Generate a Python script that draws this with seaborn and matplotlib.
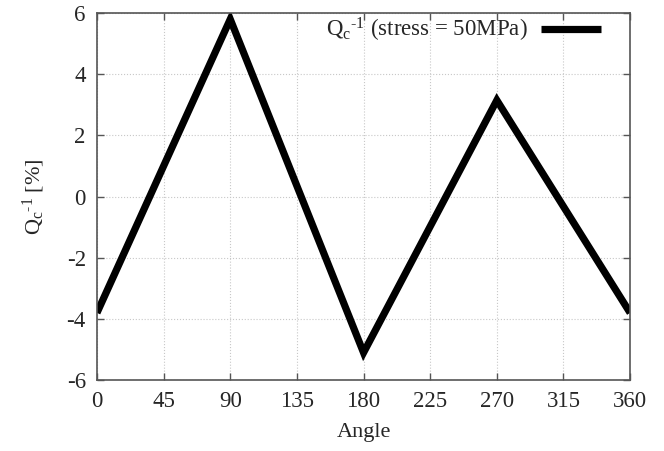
import pandas as pd
import matplotlib
matplotlib.use("Agg")
import matplotlib.pyplot as plt
import seaborn as sns

angles = [0, 90, 180, 270, 360]
qc_inv = [-3.8, 5.8, -5.1, 3.15, -3.8]
x_ticks = [0, 45, 90, 135, 180, 225, 270, 315, 360]
y_ticks = [-6, -4, -2, 0, 2, 4, 6]
series_label = "Q$_\\mathrm{c}$$^{\\mathrm{\u20101}}$ (stress = 50MPa)"
y_label = "Q$_\\mathrm{c}$$^{\\mathrm{\u20101}}$ [%]"

sns.set_style("ticks")
plt.rcParams['font.family'] = ['Liberation Serif', 'DejaVu Serif']
plt.rcParams['mathtext.fontset'] = 'custom'
plt.rcParams['mathtext.rm'] = 'Liberation Serif'
plt.rcParams['mathtext.it'] = 'Liberation Serif:italic'
plt.rcParams['axes.unicode_minus'] = False

df = pd.DataFrame({'Angle': angles, 'Qc': qc_inv})

fig = plt.figure(figsize=(6.64, 4.51), dpi=100)
ax = fig.add_axes([0.146, 0.157, 0.803, 0.814])

sns.lineplot(data=df, x='Angle', y='Qc', ax=ax, color='black', linewidth=5.2,
             label=series_label, solid_joinstyle='miter', solid_capstyle='butt')

ax.set_xlim(0, 360)
ax.set_ylim(-6, 6)
ax.set_xticks(x_ticks)
ax.set_yticks(y_ticks)
ax.grid(True, color='#c8c8c8', linestyle=':', linewidth=0.8)
ax.tick_params(direction='in', top=True, right=True, length=5, width=1,
               labelsize=16.5, color='#555555', pad=8)
for s in ax.spines.values():
    s.set_color('#555555')
    s.set_linewidth(1.2)

ax.set_xlabel('Angle', fontsize=16, labelpad=8)
ax.set_ylabel(y_label, fontsize=16, labelpad=14)

leg = ax.legend(loc='upper right', frameon=False, markerfirst=False, fontsize=16.5,
                handlelength=2.6, borderaxespad=0.3, handletextpad=0.6,
                bbox_to_anchor=(0.975, 1.035))
for h in leg.get_lines():
    h.set_solid_capstyle('butt')

fig.savefig('out.png', dpi=100)
